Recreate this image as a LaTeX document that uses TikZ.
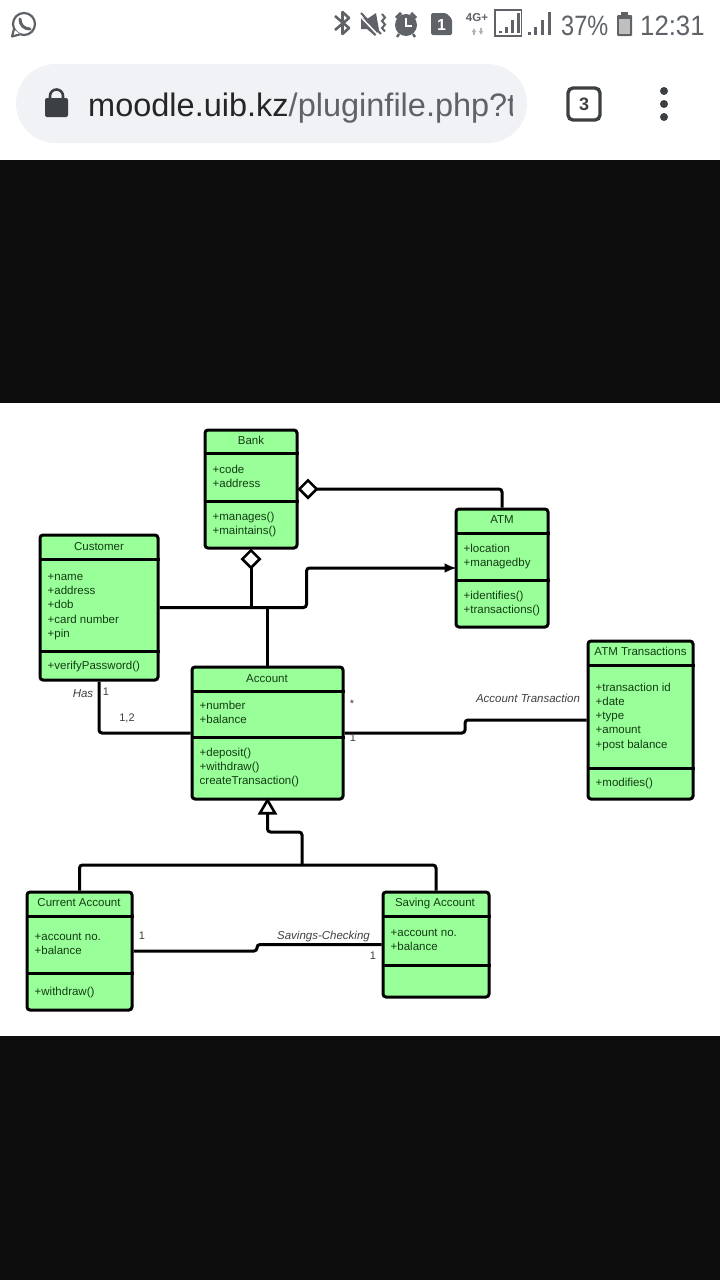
\documentclass[tikz,border=0pt]{standalone}
\usepackage{fontspec}
\setmainfont{Liberation Sans}
\usetikzlibrary{arrows.meta,shapes.geometric}
\definecolor{umlgreen}{HTML}{99FF99}
\definecolor{umltext}{HTML}{143C14}
\definecolor{bandblack}{HTML}{0D0D0D}
\definecolor{pillgrey}{HTML}{F0F2F5}
\definecolor{bargrey}{HTML}{5F6368}
\definecolor{inkdark}{HTML}{3C4043}
\tikzset{
  classbox/.style={draw=black,fill=umlgreen,line width=3pt,rounded corners=3pt,inner sep=0pt},
  classname/.style={font=\fontsize{11.5}{14}\selectfont,text=umltext,inner sep=0pt,text height=8.5pt,text depth=2.5pt},
  classitem/.style={font=\fontsize{11.5}{14.25}\selectfont,text=umltext,inner sep=0pt,align=left,anchor=north west},
  classrule/.style={line width=3pt},
  conn/.style={line width=3pt,rounded corners=3pt},
  linklabel/.style={font=\fontsize{11}{13}\selectfont,text=black!75,inner sep=0pt},
  linkname/.style={linklabel,font=\fontsize{11.5}{13}\selectfont\itshape},
  agg/.style={{Diamond[fill=white,length=21pt,width=21pt,line width=2.6pt]}-,shorten <=-1pt},
  inherit/.style={{Triangle[fill=white,length=17pt,width=19pt,line width=2.6pt]}-,shorten <=-3pt},
  bartext/.style={font=\fontsize{28}{31}\selectfont,text=bargrey,inner sep=0pt,transform shape}
}
\begin{document}
\begin{tikzpicture}[x=1pt,y=-1pt]
  \useasboundingbox (0,0) rectangle (720,1280);
  \fill[white] (0,0) rectangle (720,1280);
  % bands round the picture
  \fill[bandblack] (0,160) rectangle (720,403);
  \fill[bandblack] (0,1036) rectangle (720,1280);
  % status bar
  \draw[bargrey,line width=2.2pt] (24,24) circle (11pt);
  \fill[white] (11,38) -- (12,28) -- (20,34) -- cycle;
  \draw[bargrey,line width=2.2pt,line join=round] (14,29) -- (12,36.5) -- (19.5,34.5);
  \draw[bargrey,line width=3pt,line cap=round] (20,19) .. controls (20,25) and (24,29) .. (30,29);
  \draw[bargrey,line width=2.6pt,line join=round] (335,16) -- (349,28) -- (342.5,34) -- (342.5,12) -- (349,18) -- (335,30);
  \fill[bargrey] (361,17) -- (367,19) -- (376,13) -- (379,30) -- (375,36) -- (367,29) -- (361,29) -- cycle;
  \draw[white,line width=1.5pt] (359,15) -- (379,36);
  \draw[bargrey,line width=2pt] (361,13) -- (381,34);
  \draw[bargrey,line width=2pt] (382,14) -- ++(3,3.5) -- ++(-3,3.5) -- ++(3,3.5) -- ++(-3,3.5) -- ++(3,3.5);
  \fill[bargrey] (406,25) circle (11pt);
  \draw[white,line width=2pt] (406,18) -- (406,26) -- (412,26);
  \draw[bargrey,line width=3pt] (396,18) -- (401,13);
  \draw[bargrey,line width=3pt] (416,18) -- (411,13);
  \draw[bargrey,line width=2.4pt] (399,34) -- (397,37);
  \draw[bargrey,line width=2.4pt] (413,34) -- (415,37);
  \fill[bargrey,rounded corners=1.5pt] (431,13) -- (446,13) -- (452,19) -- (452,35) -- (431,35) -- cycle;
  \node[font=\fontsize{16}{16}\bfseries\selectfont,text=white,inner sep=0pt] (simno) at (441.5,24.5) {1};
  \node[font=\fontsize{11.5}{12}\bfseries\selectfont,text=bargrey,inner sep=0pt] (nettype) at (477,18) {4G+};
  \draw[-{Latex[length=4pt,width=5pt]},black!30,line width=1.4pt] (474,35) -- (474,28);
  \draw[{Latex[length=4pt,width=5pt]}-,black!30,line width=1.4pt] (481,35) -- (481,28);
  \draw[bargrey,line width=1.6pt] (495,10) rectangle (521.5,36);
  \foreach \sx/\st in {499/31,505/27,511/20,517/13} \fill[bargrey] (\sx,33) rectangle (\sx+3,\st);
  \foreach \sx/\st in {528/32,534/27,541/20,548/12} \fill[bargrey] (\sx,35) rectangle (\sx+3,\st);
  \node[bartext,xscale=.84,anchor=west] (battpct) at (561,25.5) {37\%};
  \fill[bargrey,rounded corners=1pt] (617,15) rectangle (632,36);
  \fill[bargrey] (621,12) rectangle (628,16);
  \fill[black!25] (619,19) rectangle (630,34);
  \node[bartext,xscale=.92,anchor=west] (clock) at (640,25.5) {12:31};
  % address bar
  \fill[pillgrey,rounded corners=39.5pt] (16,64) rectangle (527,143);
  \fill[inkdark,rounded corners=2pt] (45,98) rectangle (68,117);
  \draw[inkdark,line width=2.6pt] (50,98) -- (50,96) arc (180:0:6.5pt) -- (63,98);
  \begin{scope}
    \clip (80,80) rectangle (512,130);
    \node[font=\fontsize{32.5}{36}\selectfont,text=black!85,inner sep=0pt,anchor=base west] (url) at (88,116) {moodle.uib.kz\textcolor{bargrey}{/pluginfile.php?t}};
  \end{scope}
  \draw[inkdark,line width=3.4pt,rounded corners=5pt] (568,88) rectangle (600,120);
  \node[font=\fontsize{18}{18}\bfseries\selectfont,text=inkdark,inner sep=0pt] (tabcount) at (584,104) {3};
  \foreach \dy in {91,104,117} \fill[inkdark] (664,\dy) circle (4pt);
  % classes
  \node[classbox,minimum width=92pt,minimum height=118pt] (bank) at (251,489) {};
  \draw[classrule] (bank.west |- 0,453) -- (bank.east |- 0,453);
  \draw[classrule] (bank.west |- 0,501) -- (bank.east |- 0,501);
  \node[classname] (bankname) at (251,441) {Bank};
  \node[classitem] (bankattr) at (212.5,464.5) {+code\\+address};
  \node[classitem] (bankops) at (212.5,511.5) {+manages()\\+maintains()};
  \node[classbox,minimum width=118pt,minimum height=145pt] (customer) at (99,607.5) {};
  \draw[classrule] (customer.west |- 0,559) -- (customer.east |- 0,559);
  \draw[classrule] (customer.west |- 0,651) -- (customer.east |- 0,651);
  \node[classname] (customername) at (99,547) {Customer};
  \node[classitem] (customerattr) at (47.5,573.5) {+name\\+address\\+dob\\+card number\\+pin};
  \node[classitem] (customerops) at (47.5,660.5) {+verifyPassword()};
  \node[classbox,minimum width=151pt,minimum height=132pt] (account) at (267.5,733) {};
  \draw[classrule] (account.west |- 0,691) -- (account.east |- 0,691);
  \draw[classrule] (account.west |- 0,737) -- (account.east |- 0,737);
  \node[classname] (accountname) at (267,679) {Account};
  \node[classitem] (accountattr) at (199.5,701) {+number\\+balance};
  \node[classitem] (accountops) at (199.5,747.5) {+deposit()\\+withdraw()\\createTransaction()};
  \node[classbox,minimum width=92pt,minimum height=118pt] (atm) at (502,568) {};
  \draw[classrule] (atm.west |- 0,533) -- (atm.east |- 0,533);
  \draw[classrule] (atm.west |- 0,580) -- (atm.east |- 0,580);
  \node[classname] (atmname) at (502,520.5) {ATM};
  \node[classitem] (atmattr) at (463.5,543.5) {+location\\+managedby};
  \node[classitem] (atmops) at (463.5,590.5) {+identifies()\\+transactions()};
  \node[classbox,minimum width=105pt,minimum height=158pt] (atmtrans) at (640.5,720) {};
  \draw[classrule] (atmtrans.west |- 0,665) -- (atmtrans.east |- 0,665);
  \draw[classrule] (atmtrans.west |- 0,768) -- (atmtrans.east |- 0,768);
  \node[classname] (atmtransname) at (640.5,652) {ATM Transactions};
  \node[classitem] (atmtransattr) at (595.5,682.5) {+transaction id\\+date\\+type\\+amount\\+post balance};
  \node[classitem] (atmtransops) at (595.5,777.5) {+modifies()};
  \node[classbox,minimum width=105pt,minimum height=118pt] (current) at (79.5,951) {};
  \draw[classrule] (current.west |- 0,916) -- (current.east |- 0,916);
  \draw[classrule] (current.west |- 0,973) -- (current.east |- 0,973);
  \node[classname] (currentname) at (79,903) {Current Account};
  \node[classitem] (currentattr) at (34.5,932.5) {+account no.\\+balance};
  \node[classitem] (currentops) at (34.5,986.5) {+withdraw()};
  \node[classbox,minimum width=106pt,minimum height=105pt] (saving) at (436,944.5) {};
  \draw[classrule] (saving.west |- 0,916) -- (saving.east |- 0,916);
  \draw[classrule] (saving.west |- 0,965) -- (saving.east |- 0,965);
  \node[classname] (savingname) at (435,903) {Saving Account};
  \node[classitem] (savingattr) at (390.5,928.5) {+account no.\\+balance};
  % connectors
  \coordinate (hub) at (267.5,607.5);
  \coordinate (bankdrop) at (251,607.5);
  \coordinate (turnup) at (306.5,607.5);
  \coordinate (turnin) at (306.5,568);
  \coordinate (stepa) at (465,733);
  \coordinate (stepb) at (465,720);
  \coordinate (stepc) at (257,951);
  \coordinate (stepd) at (257,944.5);
  \coordinate (genbend) at (267.5,832);
  \coordinate (genturn) at (302,832);
  \coordinate (genhub) at (302,865);
  \draw[conn,agg] (bank.east) -| (atm.north);
  \draw[conn,agg] (bank.south) -- (bankdrop);
  \draw[conn,-{Latex[length=12pt,width=10pt]},shorten >=-2pt] (customer.east) -- (turnup) -- (turnin) -- (atm.west);
  \draw[conn] (account.north) -- (hub);
  \draw[conn] (customer.south) |- (account.west);
  \draw[conn] (account.east) -- (stepa) -- (stepb) -- (atmtrans.west);
  \draw[conn] (current.east) -- (stepc) -- (stepd) -- (saving.west);
  \draw[conn,inherit] (account.south) -- (genbend) -- (genturn) -- (genhub);
  \draw[conn] (current.north) |- (genhub) -| (saving.north);
  % link labels
  \node[linkname] (haslabel) at (83,693.5) {Has};
  \node[linklabel] (hasone) at (106,692) {1};
  \node[linklabel] (hasmany) at (127,718) {1,2};
  \node[linklabel] (transstar) at (352,704) {*};
  \node[linklabel] (transone) at (353,738) {1};
  \node[linkname] (translabel) at (528,698.5) {Account Transaction};
  \node[linklabel] (checkone) at (142,936) {1};
  \node[linkname] (checklabel) at (323.5,936.5) {Savings-Checking};
  \node[linklabel] (saveone) at (373,956) {1};
\end{tikzpicture}
\end{document}
